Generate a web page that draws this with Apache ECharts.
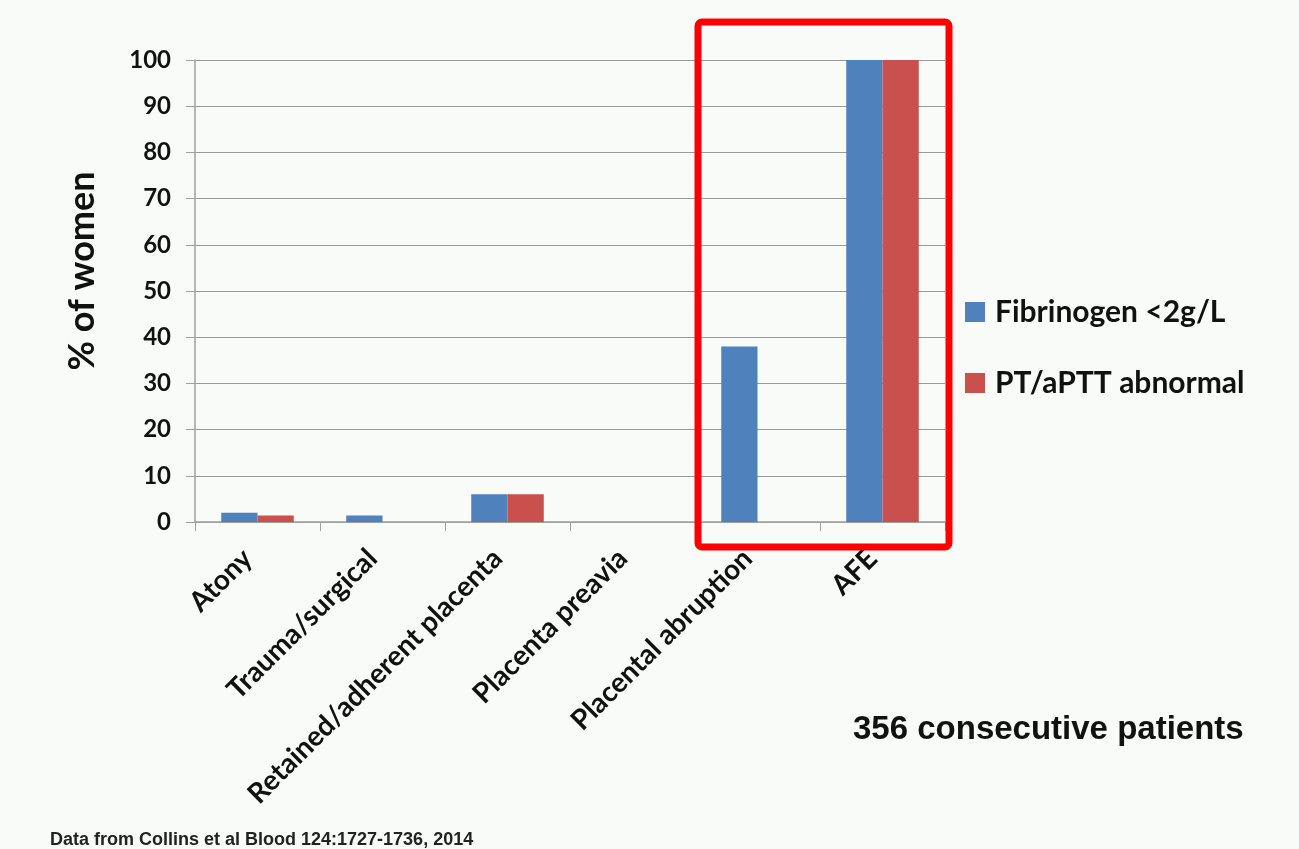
<!DOCTYPE html>
<html>
<head>
<meta charset="utf-8">
<script src="https://cdn.jsdelivr.net/npm/echarts@6/dist/echarts.min.js"></script>
<style>
  html, body { margin: 0; padding: 0; background: #f8fbf8; }
  #main { width: 1299px; height: 849px; }
</style>
</head>
<body>
<div id="main"></div>
<script>
const categories = [
  "Atony",
  "Trauma/surgical",
  "Retained/adherent placenta",
  "Placenta preavia",
  "Placental abruption",
  "AFE",
];
const fibrinogen = [2, 1.4, 6, 0, 38, 100];
const ptAptt = [1.4, 0, 6, 0, 0, 100];
const yTicks = [0, 10, 20, 30, 40, 50, 60, 70, 80, 90, 100];

const FONT = "Lato";
const chart = echarts.init(document.getElementById("main"));

const option = {
  backgroundColor: "#f8fbf8",
  animation: false,
  grid: { left: 195, right: 354, top: 60, bottom: 327 },
  legend: {
    orient: "vertical",
    left: 965,
    top: 297,
    padding: 0,
    itemWidth: 20,
    itemHeight: 20,
    itemGap: 41,
    icon: "rect",
    textStyle: {
      fontFamily: FONT,
      fontWeight: "bold",
      fontSize: 30,
      color: "#111",
      padding: [0, 0, 0, 5],
    },
    data: ["Fibrinogen <2g/L", "PT/aPTT abnormal"],
  },
  xAxis: {
    type: "category",
    data: categories,
    axisLine: { lineStyle: { color: "#a0a0a0", width: 1.5 } },
    axisTick: { show: true, length: 9, lineStyle: { color: "#a0a0a0" } },
    axisLabel: {
      rotate: 45,
      interval: 0,
      margin: 22,
      padding: [0, 14, 0, 0],
      fontFamily: FONT,
      fontWeight: "bold",
      fontSize: 28,
      color: "#111",
    },
  },
  yAxis: {
    type: "value",
    min: yTicks[0],
    max: yTicks[yTicks.length - 1],
    interval: 10,
    name: "% of women",
    nameLocation: "middle",
    nameGap: 95,
    nameTextStyle: {
      fontFamily: FONT,
      fontWeight: "bold",
      fontSize: 36,
      color: "#111",
      padding: [0, 0, 0, 40],
    },
    axisLine: { show: true, lineStyle: { color: "#a0a0a0", width: 1.5 } },
    axisTick: { show: true, length: 9, lineStyle: { color: "#a0a0a0" } },
    axisLabel: {
      margin: 24,
      fontFamily: FONT,
      fontWeight: "bold",
      fontSize: 24,
      color: "#111",
    },
    splitLine: { lineStyle: { color: "#9a9a9a", width: 1.2 } },
  },
  series: [
    {
      name: "Fibrinogen <2g/L",
      type: "bar",
      data: fibrinogen,
      barGap: "0%",
      barCategoryGap: "42%",
      itemStyle: { color: "#4f81bd" },
    },
    {
      name: "PT/aPTT abnormal",
      type: "bar",
      data: ptAptt,
      itemStyle: { color: "#c9504c" },
    },
  ],
  graphic: [
    {
      type: "rect",
      shape: { x: 698, y: 22, width: 251, height: 525, r: 4 },
      style: { fill: "none", stroke: "#ff0000", lineWidth: 7 },
      z: 100,
    },
    {
      type: "text",
      left: 853,
      top: 713,
      style: {
        text: "356 consecutive patients",
        fontFamily: "Liberation Sans",
        fontWeight: "bold",
        fontSize: 33,
        fill: "#111",
      },
    },
    {
      type: "text",
      left: 50,
      top: 831,
      style: {
        text: "Data from Collins et al Blood 124:1727-1736, 2014",
        fontFamily: "Liberation Sans",
        fontWeight: "bold",
        fontSize: 18,
        fill: "#222",
      },
    },
  ],
};

chart.setOption(option);
</script>
</body>
</html>
